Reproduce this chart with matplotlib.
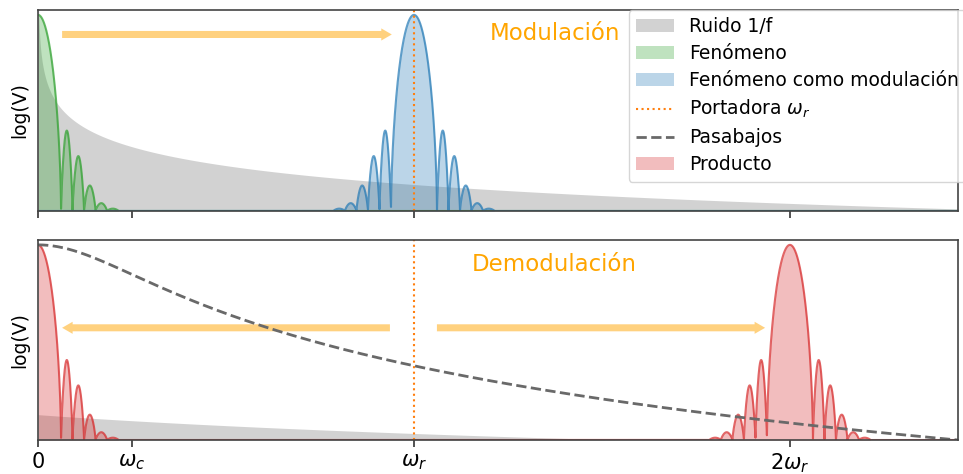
import numpy as np
import matplotlib
matplotlib.use("Agg")
import matplotlib.pyplot as plt
from matplotlib.patches import Patch
from matplotlib.lines import Line2D

plt.rcParams['font.family'] = ['DejaVu Sans']
plt.rcParams['font.size'] = 13.5
plt.rcParams['mathtext.fontset'] = 'dejavusans'

# frecuencias características (en unidades de w_r)
w_c = 0.25
w_r = 1.0
x_max = 2.447
tick_pos = [0, w_c, w_r, 2 * w_r]
tick_labels = ['0', r'$\omega_c$', r'$\omega_r$', r'$2\omega_r$']

# espectro del fenómeno: lóbulo central y alturas de los lóbulos laterales
bin_width = 0.0306
main_half_width = 2          # en unidades de bin_width
main_shape = 0.6
side_shape = 0.75
side_lobes = [0.41, 0.28, 0.13, 0.04, 0.012]

# ruido 1/f en escala log
noise_level = 0.135
noise_slope = 0.32
noise_level_demod = 0.13

# flechas (inicio, fin, altura)
arrows_top = [(0.064, 0.941, 0.9)]
arrows_bottom = [(0.936, 0.064, 0.575), (1.061, 1.934, 0.575)]

x = np.linspace(0, x_max, 8000)


def lobe(x, center):
    u = np.abs(x - center) / bin_width
    h = np.zeros_like(u)
    core = u < main_half_width
    h[core] = (1 - (u[core] / main_half_width) ** 2) ** main_shape
    for k, a in enumerate(side_lobes):
        m = (u >= main_half_width + k) & (u < main_half_width + k + 1)
        h[m] = a * np.sin(np.pi * (u[m] - main_half_width - k)) ** side_shape
    return h


def noise(x, level):
    return np.clip(level - noise_slope * np.log10(np.maximum(x, 1e-5)), 0, 3)


def lowpass(x):
    # pasabajos de primer orden en escala log
    g = np.log10(1 + (x / w_c) ** 2)
    return 1 - g / np.log10(1 + (x_max / w_c) ** 2)


def draw_arrow(ax, x0, x1, y):
    ax.arrow(x0, y, x1 - x0, 0, width=0.036, head_width=0.062, head_length=0.028,
             length_includes_head=True, color='orange', alpha=0.5, lw=0)


fig = plt.figure(figsize=(9.63, 4.74), dpi=100)
ax1 = fig.add_axes([0.0395, 0.5549, 0.9553, 0.4241])
ax2 = fig.add_axes([0.0395, 0.0717, 0.9553, 0.422])

green = lobe(x, 0)
blue = lobe(x, w_r)
red = lobe(x, 0) + lobe(x, 2 * w_r)

# panel de modulación
ax1.fill_between(x, 0, noise(x, noise_level), color='gray', alpha=0.35, lw=0)
ax1.fill_between(x, 0, green, color='tab:green', alpha=0.3, lw=0)
ax1.plot(x, green, color='tab:green', alpha=0.7, lw=1.5)
ax1.fill_between(x, 0, blue, color='tab:blue', alpha=0.3, lw=0)
ax1.plot(x, blue, color='tab:blue', alpha=0.7, lw=1.5)
ax1.axvline(w_r, color='tab:orange', ls=':', lw=1.5)
for a in arrows_top:
    draw_arrow(ax1, *a)
ax1.text(1.202, 0.905, 'Modulación', color='orange', fontsize=16.5, va='center')

# panel de demodulación
ax2.fill_between(x, 0, noise(x + w_r, noise_level_demod), color='gray', alpha=0.35, lw=0)
ax2.fill_between(x, 0, red, color='tab:red', alpha=0.3, lw=0)
ax2.plot(x, red, color='tab:red', alpha=0.7, lw=1.5)
ax2.plot(x, lowpass(x), color='dimgray', ls='--', lw=2)
ax2.axvline(w_r, color='tab:orange', ls=':', lw=1.5)
for a in arrows_bottom:
    draw_arrow(ax2, *a)
ax2.text(1.154, 0.9, 'Demodulación', color='orange', fontsize=16.5, va='center')

for ax in (ax1, ax2):
    ax.set_xlim(0, x_max)
    ax.set_ylim(0, 1.025)
    ax.set_yticks([])
    ax.set_xticks(tick_pos)
    ax.set_ylabel('log(V)', labelpad=6)
    ax.tick_params(axis='x', length=5, width=1.2, color='#333333')
    for s in ax.spines.values():
        s.set_color('#444444')
        s.set_linewidth(1.2)
ax1.set_xticklabels([])
ax2.set_xticklabels(tick_labels, fontsize=15)

handles = [
    Patch(color='gray', alpha=0.35, lw=0, label='Ruido 1/f'),
    Patch(color='tab:green', alpha=0.3, lw=0, label='Fenómeno'),
    Patch(color='tab:blue', alpha=0.3, lw=0, label='Fenómeno como modulación'),
    Line2D([], [], color='tab:orange', ls=':', lw=1.5, label=r'Portadora $\omega_r$'),
    Line2D([], [], color='dimgray', ls='--', lw=2, label='Pasabajos'),
    Patch(color='tab:red', alpha=0.3, lw=0, label='Producto'),
]
ax1.legend(handles=handles, loc='upper left', bbox_to_anchor=(0.642, 1.0),
           borderaxespad=0, fontsize=13.5, labelspacing=0.42)

fig.savefig('out.png', dpi=100)
